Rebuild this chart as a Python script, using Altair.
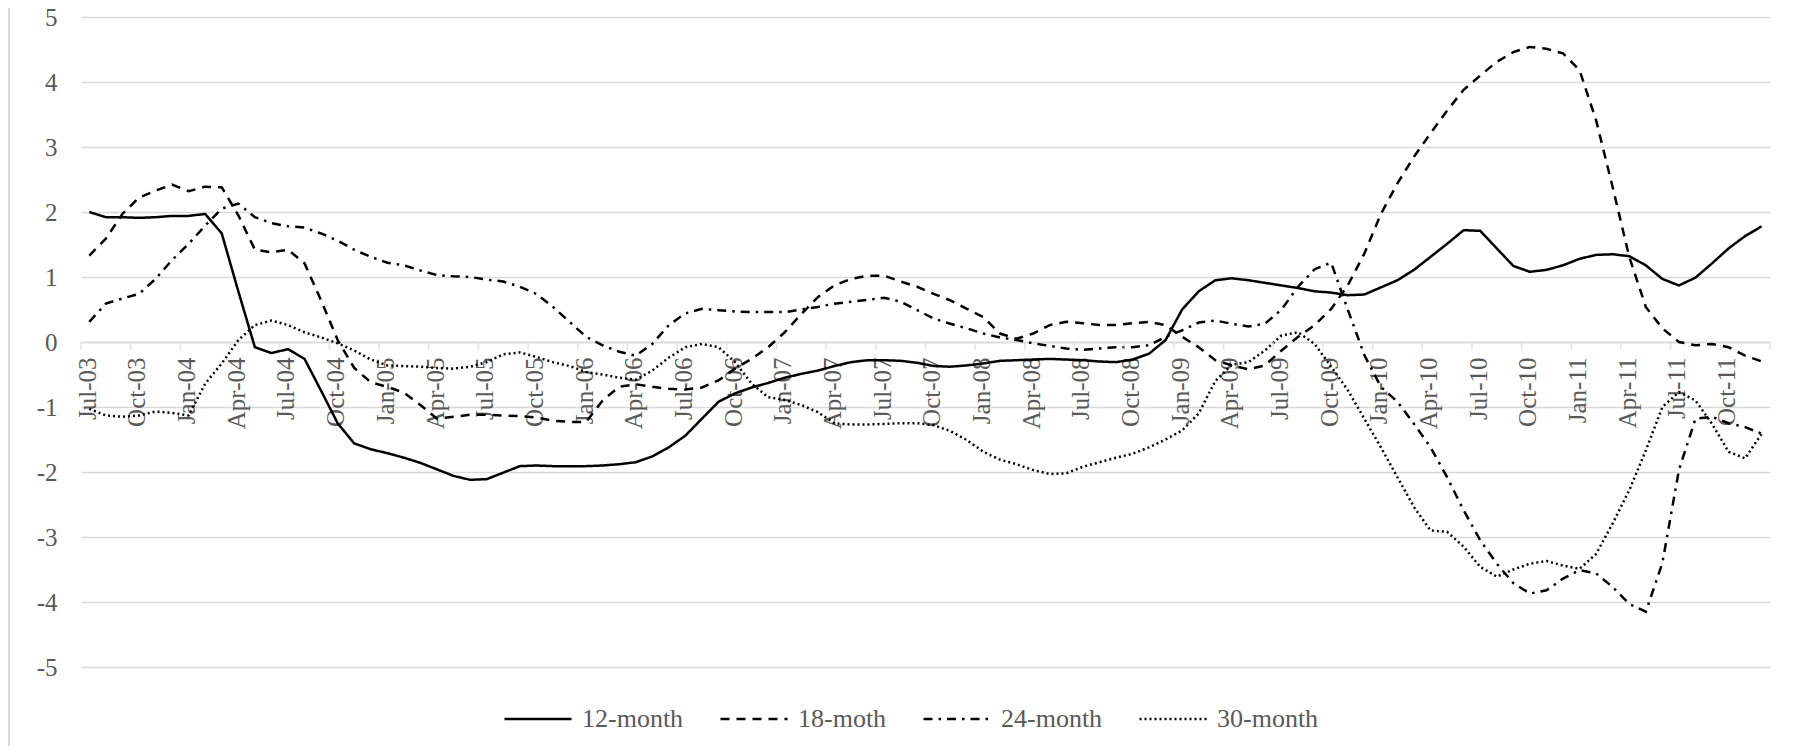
import altair as alt
import pandas as pd

# ---------------- data ----------------
series_names = ["12-month", "18-moth", "24-month", "30-month"]

m12 = [2.00, 1.92, 1.92, 1.91, 1.92, 1.94, 1.94, 1.97, 1.67, 0.78,
       -0.08, -0.17, -0.11, -0.26, -0.75, -1.25, -1.56, -1.65, -1.71, -1.78,
       -1.86, -1.96, -2.06, -2.12, -2.11, -2.01, -1.91, -1.90, -1.91, -1.91,
       -1.91, -1.90, -1.88, -1.85, -1.76, -1.62, -1.44, -1.18, -0.92, -0.79,
       -0.70, -0.63, -0.55, -0.49, -0.44, -0.37, -0.31, -0.28, -0.28, -0.29,
       -0.32, -0.37, -0.38, -0.36, -0.33, -0.29, -0.28, -0.27, -0.26, -0.27,
       -0.28, -0.30, -0.31, -0.27, -0.18, 0.03, 0.50, 0.78, 0.95, 0.98,
       0.95, 0.91, 0.87, 0.83, 0.78, 0.76, 0.72, 0.73, 0.84, 0.95,
       1.11, 1.31, 1.51, 1.72, 1.71, 1.44, 1.17, 1.08, 1.11, 1.18,
       1.28, 1.34, 1.35, 1.32, 1.18, 0.97, 0.87, 0.99, 1.21, 1.44,
       1.63, 1.78]

m18 = [1.33, 1.59, 1.97, 2.22, 2.33, 2.42, 2.32, 2.39, 2.38, 1.95,
       1.42, 1.38, 1.42, 1.21, 0.64, 0.03, -0.40, -0.62, -0.69, -0.78,
       -0.97, -1.18, -1.15, -1.12, -1.12, -1.13, -1.14, -1.16, -1.21, -1.23,
       -1.23, -0.90, -0.69, -0.65, -0.69, -0.72, -0.73, -0.70, -0.59, -0.41,
       -0.26, -0.08, 0.15, 0.43, 0.69, 0.87, 0.97, 1.02, 1.02, 0.93,
       0.85, 0.74, 0.64, 0.51, 0.38, 0.13, 0.05, 0.13, 0.26, 0.31,
       0.29, 0.26, 0.26, 0.29, 0.31, 0.26, 0.08, -0.08, -0.28, -0.36,
       -0.42, -0.36, -0.13, 0.08, 0.26, 0.51, 0.87, 1.36, 1.97, 2.44,
       2.85, 3.21, 3.56, 3.88, 4.10, 4.31, 4.46, 4.54, 4.51, 4.44,
       4.18, 3.41, 2.38, 1.31, 0.54, 0.21, 0.00, -0.05, -0.03, -0.08,
       -0.21, -0.30]

m24 = [0.31, 0.59, 0.67, 0.74, 0.97, 1.26, 1.51, 1.79, 2.05, 2.13,
       1.92, 1.83, 1.78, 1.76, 1.67, 1.56, 1.42, 1.31, 1.22, 1.18,
       1.10, 1.03, 1.01, 1.00, 0.96, 0.93, 0.85, 0.74, 0.54, 0.31,
       0.08, -0.05, -0.15, -0.21, -0.03, 0.26, 0.44, 0.51, 0.49, 0.47,
       0.46, 0.46, 0.46, 0.50, 0.54, 0.59, 0.62, 0.65, 0.68, 0.62,
       0.49, 0.36, 0.28, 0.21, 0.13, 0.07, 0.03, -0.02, -0.06, -0.10,
       -0.12, -0.10, -0.08, -0.08, -0.05, 0.08, 0.18, 0.30, 0.33, 0.28,
       0.24, 0.28, 0.50, 0.85, 1.12, 1.22, 0.50, -0.20, -0.69, -0.92,
       -1.26, -1.62, -2.08, -2.59, -3.05, -3.41, -3.71, -3.87, -3.82, -3.64,
       -3.51, -3.56, -3.77, -4.03, -4.15, -3.40, -1.97, -1.18, -1.15, -1.25,
       -1.31, -1.41]

m30 = [-1.03, -1.13, -1.15, -1.13, -1.07, -1.09, -1.13, -0.64, -0.33, 0.03,
       0.26, 0.33, 0.26, 0.15, 0.07, -0.02, -0.13, -0.27, -0.36, -0.37,
       -0.38, -0.40, -0.41, -0.38, -0.31, -0.19, -0.16, -0.23, -0.31, -0.37,
       -0.46, -0.50, -0.55, -0.58, -0.44, -0.24, -0.08, -0.03, -0.08, -0.31,
       -0.64, -0.85, -0.89, -0.97, -1.08, -1.25, -1.27, -1.27, -1.26, -1.25,
       -1.25, -1.28, -1.37, -1.51, -1.69, -1.81, -1.88, -1.97, -2.03, -2.02,
       -1.92, -1.85, -1.78, -1.72, -1.62, -1.50, -1.36, -1.10, -0.60, -0.35,
       -0.31, -0.13, 0.10, 0.15, -0.03, -0.38, -0.74, -1.18, -1.62, -2.08,
       -2.54, -2.90, -2.92, -3.15, -3.46, -3.61, -3.50, -3.41, -3.37, -3.44,
       -3.49, -3.26, -2.79, -2.28, -1.67, -1.00, -0.77, -0.90, -1.26, -1.69,
       -1.79, -1.41]

month_names = ["Jan", "Feb", "Mar", "Apr", "May", "Jun",
               "Jul", "Aug", "Sep", "Oct", "Nov", "Dec"]
months = [f"{month_names[(6 + i) % 12]}-{((2003 * 12 + 6 + i) // 12) % 100:02d}"
          for i in range(len(m12))]
tick_labels = months[::3]  # Jul-03, Oct-03, ... Oct-11
y_ticks = [-5, -4, -3, -2, -1, 0, 1, 2, 3, 4, 5]

rows = []
for name, vals in zip(series_names, [m12, m18, m24, m30]):
    for i, v in enumerate(vals):
        rows.append({"idx": i, "month": months[i], "series": name, "value": v})
df = pd.DataFrame(rows)

# category boundaries every 3 months (tick marks sit between categories)
n = len(months)
bounds = [i - 0.5 for i in range(0, n, 3)] + [n - 0.5]
tick_df = pd.DataFrame({"idx": bounds, "value": [0] * len(bounds)})

# ---------------- styling ----------------
W, H = 1689, 650
FONT = "Liberation Serif"
GRID = "#d9d9d9"
TEXT = "#595959"

x_scale = alt.Scale(domain=[-0.5, n - 0.5], nice=False, zero=False)
y_scale = alt.Scale(domain=[-5, 5], nice=False)

label_expr = "[" + ",".join(f"'{s}'" for s in tick_labels) + "][round(datum.value / 3)]"

x_axis = alt.Axis(
    values=list(range(0, n, 3)), labelExpr=label_expr, labelAngle=270,
    ticks=False, grid=False, domain=True, domainColor=GRID, domainWidth=1.5,
    offset=-H / 2, labelPadding=15, labelFont=FONT, labelFontSize=25,
    labelColor=TEXT, labelFlush=False, labelOverlap=False, labelBound=False,
    labelOffset=-2, title=None,
)
y_axis = alt.Axis(
    values=y_ticks, grid=True, gridColor=GRID, gridWidth=1.5, ticks=False,
    domain=False, labelPadding=24, labelFont=FONT, labelFontSize=25,
    labelColor=TEXT, labelExpr="'' + datum.value", title=None,
)

lines = alt.Chart(df).mark_line(strokeWidth=2.5, color="black").encode(
    x=alt.X("idx:Q", scale=x_scale, axis=x_axis),
    y=alt.Y("value:Q", scale=y_scale, axis=y_axis),
    strokeDash=alt.StrokeDash(
        "series:N",
        scale=alt.Scale(domain=series_names,
                        range=[[1, 0], [9, 7], [9, 6, 2.5, 6], [2, 3]]),
        legend=alt.Legend(
            title=None, orient="none", legendX=422, legendY=667,
            direction="horizontal", symbolType="stroke", symbolSize=4489,
            symbolStrokeWidth=2.5, symbolStrokeColor="black",
            labelFont=FONT, labelFontSize=26, labelColor=TEXT,
            labelOffset=9, columnPadding=31, padding=0,
        ),
    ),
)

ticks = alt.Chart(tick_df).mark_tick(
    orient="vertical", size=8, thickness=1.5, color=GRID, yOffset=4
).encode(
    x=alt.X("idx:Q", scale=x_scale, axis=x_axis),
    y=alt.Y("value:Q", scale=y_scale, axis=y_axis),
)

border = alt.Chart(pd.DataFrame({"k": [0]})).mark_rule(
    color=GRID, strokeWidth=2
).encode(x=alt.value(-72), y=alt.value(-17), y2=alt.value(740))

chart = alt.layer(lines, ticks, border).properties(
    width=W, height=H,
    padding={"left": 73, "top": 9, "right": 18, "bottom": 79},
    autosize="none",
).configure(background="white").configure_view(stroke=None)

chart.save("out.html", embed_options={"renderer": "svg", "actions": False})
